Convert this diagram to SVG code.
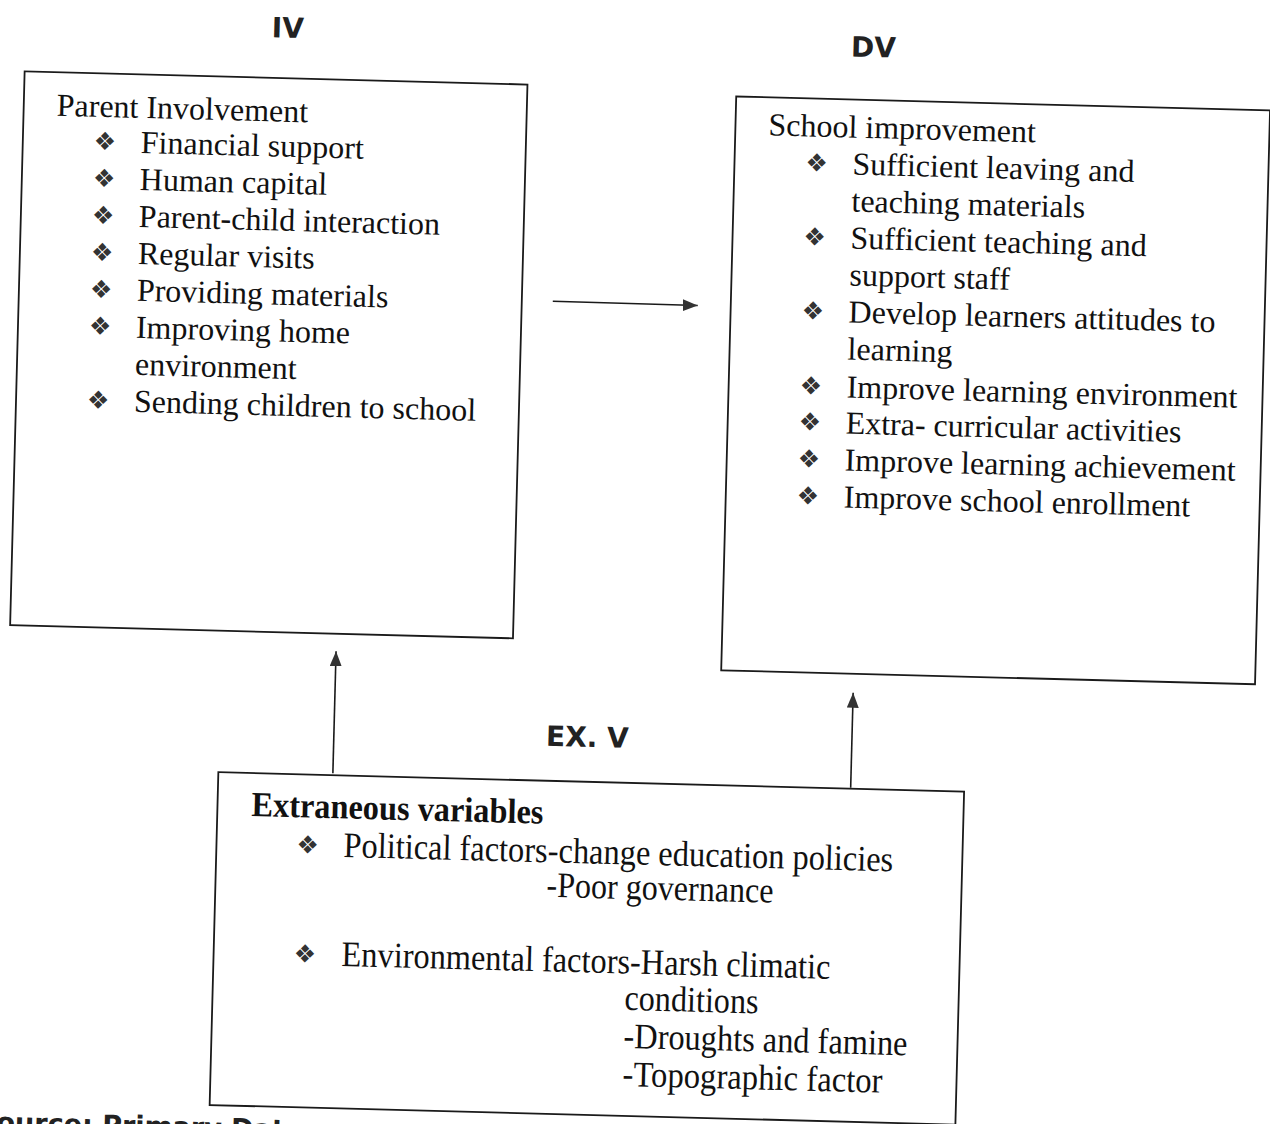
<svg xmlns="http://www.w3.org/2000/svg" width="1270" height="1124" viewBox="0 0 1270 1124">
<style>
.box{fill:none;stroke:#1a1a1a;stroke-width:1.8}
.t{font-family:"Liberation Serif","Times New Roman",serif;font-size:32px;fill:#111}
.tc{font-family:"Liberation Serif","Times New Roman",serif;font-size:36px;fill:#111}
.tb{font-family:"Liberation Serif","Times New Roman",serif;font-size:35px;font-weight:bold;fill:#111}
.b{font-family:"DejaVu Sans",sans-serif;font-size:25px;fill:#333}
.h{font-family:"DejaVu Sans","Liberation Sans",sans-serif;font-size:28px;font-weight:bold;fill:#222;text-anchor:middle}
.src{font-family:"DejaVu Sans","Liberation Sans",sans-serif;font-size:27px;font-weight:bold;fill:#222}
.ln{fill:none;stroke:#1a1a1a;stroke-width:1.6}
</style>
<defs>
<marker id="ah" markerUnits="userSpaceOnUse" markerWidth="16" markerHeight="12" refX="15" refY="6" orient="auto">
<path d="M0,0 L15,6 L0,12 z" fill="#333"/>
</marker>
</defs>
<g transform="rotate(1.5 635 562)">
<g id="node-iv">
<text class="h" x="274" y="47">IV</text>
<rect class="box" x="12" y="87.5" width="503" height="554"/>
<text class="t" x="45" y="131">Parent Involvement</text>
<text class="b" x="83" y="164">❖</text><text class="t" x="130" y="166">Financial support</text>
<text class="b" x="83" y="201">❖</text><text class="t" x="130" y="203">Human capital</text>
<text class="b" x="83" y="238">❖</text><text class="t" x="130" y="240">Parent-child interaction</text>
<text class="b" x="83" y="275">❖</text><text class="t" x="130" y="277">Regular visits</text>
<text class="b" x="83" y="312">❖</text><text class="t" x="130" y="314">Providing materials</text>
<text class="b" x="83" y="349">❖</text><text class="t" x="130" y="351">Improving home</text>
<text class="t" x="130" y="388">environment</text>
<text class="b" x="83" y="423">❖</text><text class="t" x="130" y="425">Sending children to school</text>
</g>
<g id="node-dv">
<text class="h" x="860" y="51">DV</text>
<rect class="box" x="724" y="94" width="534" height="574"/>
<text class="t" x="757" y="132">School improvement</text>
<text class="b" x="795" y="167">❖</text><text class="t" x="842" y="169">Sufficient leaving and</text>
<text class="t" x="842" y="206">teaching materials</text>
<text class="b" x="795" y="241">❖</text><text class="t" x="842" y="243">Sufficient teaching and</text>
<text class="t" x="842" y="280">support staff</text>
<text class="b" x="795" y="315">❖</text><text class="t" x="842" y="317">Develop learners attitudes to</text>
<text class="t" x="842" y="354">learning</text>
<text class="b" x="795" y="390">❖</text><text class="t" x="842" y="392">Improve learning environment</text>
<text class="b" x="795" y="426">❖</text><text class="t" x="842" y="428">Extra- curricular activities</text>
<text class="b" x="795" y="463">❖</text><text class="t" x="842" y="465">Improve learning achievement</text>
<text class="b" x="795" y="500">❖</text><text class="t" x="842" y="502">Improve school enrollment</text>
</g>
<g id="node-exv">
<text class="h" x="592" y="748">EX. V</text>
<rect class="box" x="224" y="783" width="746" height="333"/>
<text class="tb" x="258" y="826" textLength="292" lengthAdjust="spacingAndGlyphs">Extraneous variables</text>
<text class="b" x="304" y="862">❖</text><text class="tc" x="351" y="864.5" textLength="550" lengthAdjust="spacingAndGlyphs">Political factors-change education policies</text>
<text class="tc" x="555" y="899" textLength="227" lengthAdjust="spacingAndGlyphs">-Poor governance</text>
<text class="b" x="304" y="971">❖</text><text class="tc" x="352" y="973.5" textLength="489" lengthAdjust="spacingAndGlyphs">Environmental factors-Harsh climatic</text>
<text class="tc" x="636" y="1010" textLength="134" lengthAdjust="spacingAndGlyphs">conditions</text>
<text class="tc" x="636" y="1048" textLength="284" lengthAdjust="spacingAndGlyphs">-Droughts and famine</text>
<text class="tc" x="636" y="1086" textLength="260" lengthAdjust="spacingAndGlyphs">-Topographic factor</text>
</g>
<g id="connectors">
<path class="ln" d="M546,303.5 L691,304" marker-end="url(#ah)"/>
<path class="ln" d="M338.5,781 L338.5,659" marker-end="url(#ah)"/>
<path class="ln" d="M856.5,782 L856.5,687" marker-end="url(#ah)"/>
</g>
<text class="src" x="-8" y="1148">Source: Primary Data</text>
</g>
</svg>
